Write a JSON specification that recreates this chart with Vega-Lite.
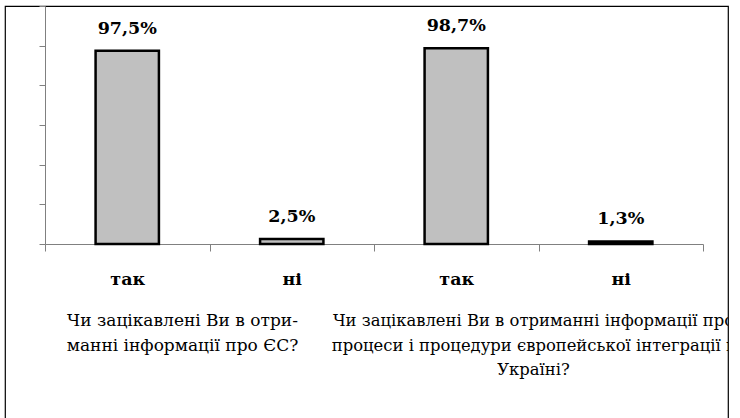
{
  "$schema": "https://vega.github.io/schema/vega-lite/v6.json",
  "autosize": {"type": "none"},
  "padding": {"left": 5, "top": 6, "right": 12, "bottom": -1},
  "width": 723,
  "height": 413,
  "config": {
    "view": {"stroke": "black", "strokeWidth": 1.2},
    "font": "DejaVu Serif",
    "text": {"font": "DejaVu Serif"},
    "axis": {"labelFont": "DejaVu Serif"}
  },
  "datasets": {
    "bars": [
      {"cat": "1 так", "value": 97.5, "label": "97,5%"},
      {"cat": "1 ні", "value": 2.5, "label": "2,5%"},
      {"cat": "2 так", "value": 98.7, "label": "98,7%"},
      {"cat": "2 ні", "value": 1.3, "label": "1,3%"}
    ],
    "q1": [
      {"cat": "1 так", "lines": ["Чи зацікавлені Ви в отри-", "манні інформації про ЄС?"]}
    ],
    "q2": [
      {"cat": "2 так", "lines": ["Чи зацікавлені Ви в отриманні інформації про", "процеси і процедури європейської інтеграції в", "Україні?"]}
    ]
  },
  "layer": [
    {
      "data": {"name": "bars"},
      "mark": {"type": "bar", "fill": "#c0c0c0", "stroke": "black", "strokeWidth": 2.5, "width": {"band": 0.385}},
      "encoding": {
        "x": {
          "field": "cat", "type": "nominal", "sort": null,
          "scale": {"domain": ["1 так", "1 ні", "2 так", "2 ні"], "range": [40, 698], "paddingInner": 0, "paddingOuter": 0},
          "axis": {
            "title": null, "orient": "bottom", "offset": -175,
            "domainColor": "#808080", "tickColor": "#808080",
            "tickBand": "extent", "tickSize": 7,
            "labelFontSize": 17.5, "labelFontWeight": "bold", "labelColor": "black",
            "labelAngle": 0, "labelPadding": 33, "labelBaseline": "alphabetic",
            "labelExpr": "slice(datum.label, 2)", "grid": false
          }
        },
        "y": {
          "field": "value", "type": "quantitative",
          "scale": {"domain": [0, 120], "range": [238, 0], "nice": false},
          "axis": {
            "title": null, "offset": -40, "values": [0, 20, 40, 60, 80, 100, 120],
            "labels": false, "tickSize": 6, "domainColor": "#808080", "tickColor": "#808080", "grid": false
          }
        }
      }
    },
    {
      "data": {"name": "bars"},
      "mark": {"type": "text", "dy": -17, "baseline": "alphabetic", "fontWeight": "bold", "fontSize": 17.5, "color": "black"},
      "encoding": {
        "x": {"field": "cat", "type": "nominal", "sort": null},
        "y": {"field": "value", "type": "quantitative"},
        "text": {"field": "label"}
      }
    },
    {
      "data": {"name": "q1"},
      "mark": {"type": "text", "dx": -27, "dy": 82, "baseline": "alphabetic", "align": "center", "lineHeight": 24.5, "fontSize": 17, "color": "black", "clip": true},
      "encoding": {
        "x": {"field": "cat", "type": "nominal", "sort": null, "bandPosition": 1},
        "y": {"datum": 0, "type": "quantitative"},
        "text": {"field": "lines"}
      }
    },
    {
      "data": {"name": "q2"},
      "mark": {"type": "text", "dx": -5, "dy": 82, "baseline": "alphabetic", "align": "center", "lineHeight": 24.5, "fontSize": 16.4, "color": "black", "clip": true},
      "encoding": {
        "x": {"field": "cat", "type": "nominal", "sort": null, "bandPosition": 1},
        "y": {"datum": 0, "type": "quantitative"},
        "text": {"field": "lines"}
      }
    }
  ]
}
